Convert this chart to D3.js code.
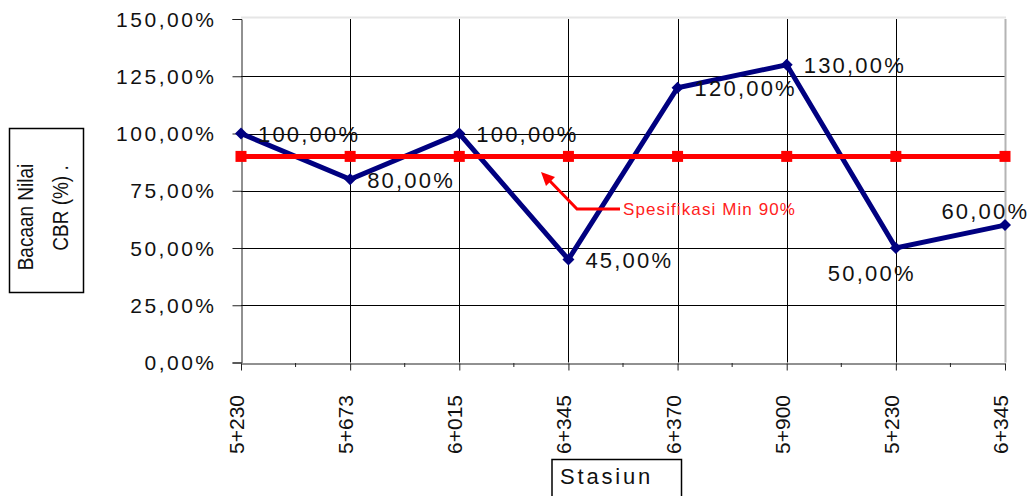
<!DOCTYPE html>
<html>
<head>
<meta charset="utf-8">
<script src="https://cdn.jsdelivr.net/npm/d3@7"></script>
<style>
  html, body { margin: 0; padding: 0; background: #fff; }
  svg { display: block; font-family: "Liberation Sans", Arial, sans-serif; }
</style>
</head>
<body>
<svg id="chart" width="1033" height="496"></svg>
<script>
// Stations along the road (some chainages repeat, so points are keyed by index)
const stations = ["5+230", "5+673", "6+015", "6+345", "6+370", "5+900", "5+230", "6+345"];
// Measured CBR reading (%) at each station
const cbrValues = [100, 80, 100, 45, 120, 130, 50, 60];
// Minimum specification (%) drawn as a reference series
const specValues = [90, 90, 90, 90, 90, 90, 90, 90];
// Value axis ticks (%)
const yTickValues = [0, 25, 50, 75, 100, 125, 150];
const specNote = "Spesifikasi Min 90%";
const yTitleLines = ["Bacaan Nilai", "CBR (%) ."];
const xTitle = "Stasiun";

const svg = d3.select("#chart");
const plot = { left: 241, right: 1005, top: 19, bottom: 362.5 };

const x = d3.scalePoint().domain(d3.range(stations.length)).range([plot.left, plot.right]);
const y = d3.scaleLinear().domain([0, 150]).range([plot.bottom, plot.top]);
const pct = v => d3.format(".2f")(v).replace(".", ",") + "%";

// Text helper with optional horizontal widening, rotation and tracking
function label(g, str, tx, ty, opts = {}) {
  const sx = opts.sx || 1;
  const rot = opts.rotate ? ` rotate(${opts.rotate})` : "";
  const t = g.append("text")
    .attr("transform", `translate(${tx},${ty}) scale(${sx},1)${rot}`)
    .attr("text-anchor", opts.anchor || "start")
    .attr("font-size", opts.size || 20)
    .attr("fill", opts.fill || "#111")
    .text(str);
  if (opts.spacing) t.attr("letter-spacing", opts.spacing);
  // trailing tracking would shift end/middle anchored text, compensate for it
  if (opts.spacing && opts.anchor === "end") t.attr("dx", opts.spacing);
  if (opts.spacing && opts.anchor === "middle") t.attr("dx", opts.spacing / 2);
  return t;
}

// Plot top border
svg.append("line")
  .attr("x1", plot.left).attr("x2", plot.right + 1)
  .attr("y1", plot.top - 1.5).attr("y2", plot.top - 1.5)
  .attr("stroke", "#e6e6e6").attr("stroke-width", 2);

// Horizontal gridlines
svg.append("g").selectAll("line")
  .data(yTickValues.filter(v => v > 0 && v < 150))
  .join("line")
  .attr("x1", plot.left).attr("x2", plot.right)
  .attr("y1", d => Math.round(y(d)) + 0.5).attr("y2", d => Math.round(y(d)) + 0.5)
  .attr("stroke", "#000").attr("stroke-width", 1);

// Vertical gridlines at each station (last one is the grey plot edge)
svg.append("g").selectAll("line")
  .data(d3.range(1, stations.length))
  .join("line")
  .attr("x1", d => Math.round(x(d)) + 0.5).attr("x2", d => Math.round(x(d)) + 0.5)
  .attr("y1", plot.top).attr("y2", plot.bottom)
  .attr("stroke", d => d === stations.length - 1 ? "#b4b4b4" : "#000")
  .attr("stroke-width", d => d === stations.length - 1 ? 2 : 1);

// Y axis
const yAxis = svg.append("g").attr("transform", `translate(${plot.left + 0.5},0)`)
  .call(d3.axisLeft(y).tickValues(yTickValues).tickSize(9).tickFormat(""));
yAxis.select(".domain").attr("stroke", "#222");
yAxis.selectAll(".tick line").attr("stroke", "#222");
yTickValues.forEach(v => {
  label(svg, pct(v), 214, y(v) + 7.5, { anchor: "end", size: 21, spacing: 2.5 });
});

// X axis with major ticks at stations and minor ticks between them
const xAxis = svg.append("g").attr("transform", `translate(0,${Math.round(plot.bottom) + 0.5})`)
  .call(d3.axisBottom(x).tickSize(7).tickSizeOuter(0).tickFormat(""));
xAxis.select(".domain").attr("stroke", "#222");
xAxis.selectAll(".tick line").attr("stroke", "#222");
svg.append("g").selectAll("line")
  .data(d3.range(stations.length - 1))
  .join("line")
  .attr("x1", d => (x(d) + x(d + 1)) / 2).attr("x2", d => (x(d) + x(d + 1)) / 2)
  .attr("y1", Math.round(plot.bottom)).attr("y2", Math.round(plot.bottom) + 4)
  .attr("stroke", "#222");
stations.forEach((s, i) => {
  label(svg, s, x(i) + 3, 395, { anchor: "end", size: 21, rotate: -90 });
});

// CBR readings
const line = d3.line().x((d, i) => x(i)).y(d => y(d));
svg.append("path").datum(cbrValues)
  .attr("d", line)
  .attr("fill", "none").attr("stroke", "#000080")
  .attr("stroke-width", 5).attr("stroke-linejoin", "miter");
svg.append("g").selectAll("path")
  .data(cbrValues)
  .join("path")
  .attr("d", (d, i) => {
    const cx = x(i), cy = y(d);
    return `M${cx},${cy - 6}L${cx + 6},${cy}L${cx},${cy + 6}L${cx - 6},${cy}Z`;
  })
  .attr("fill", "#000080");

// Specification line
svg.append("path").datum(specValues)
  .attr("d", line)
  .attr("fill", "none").attr("stroke", "#ff0000").attr("stroke-width", 5);
svg.append("g").selectAll("rect")
  .data(specValues)
  .join("rect")
  .attr("x", (d, i) => x(i) - 5.5).attr("y", d => y(d) - 5.5)
  .attr("width", 11).attr("height", 11)
  .attr("fill", "#ff0000");

// Specification note with leader arrow
const note = svg.append("g");
note.append("path")
  .attr("d", "M620,209L577,209L547,178")
  .attr("fill", "none").attr("stroke", "#ff0000").attr("stroke-width", 3);
note.append("path")
  .attr("d", "M541,172L555,177L546,186Z")
  .attr("fill", "#ff0000");
label(note, specNote, 623, 214.5, { size: 17, spacing: 1.1, fill: "#ff2020" });

// Value labels: to the right of the point, except the last two
cbrValues.forEach((v, i) => {
  let tx = x(i) + 17, ty = y(v) + 8.5, anchor = "start";
  if (i === 6) { tx = x(i) - 68; ty = y(v) + 33; }
  if (i === 7) { tx = x(i) + 22; ty = y(v) - 6; anchor = "end"; }
  label(svg, pct(v), tx, ty, { anchor, size: 22, spacing: 2.2 });
});

// Axis titles in boxes
svg.append("rect").attr("x", 9.5).attr("y", 128.5).attr("width", 74).attr("height", 164)
  .attr("fill", "#fff").attr("stroke", "#000").attr("stroke-width", 1.5);
label(svg, yTitleLines[0], 33.3, 217, { anchor: "middle", size: 19, sx: 1.12, rotate: -90 });
label(svg, yTitleLines[1], 67.5, 208, { anchor: "middle", size: 19, sx: 1.12, rotate: -90 });

svg.append("rect").attr("x", 552).attr("y", 459.5).attr("width", 129.5).attr("height", 50)
  .attr("fill", "#fff").attr("stroke", "#000").attr("stroke-width", 1.5);
label(svg, xTitle, 560, 484, { size: 22, spacing: 2.8 });
</script>
</body>
</html>
